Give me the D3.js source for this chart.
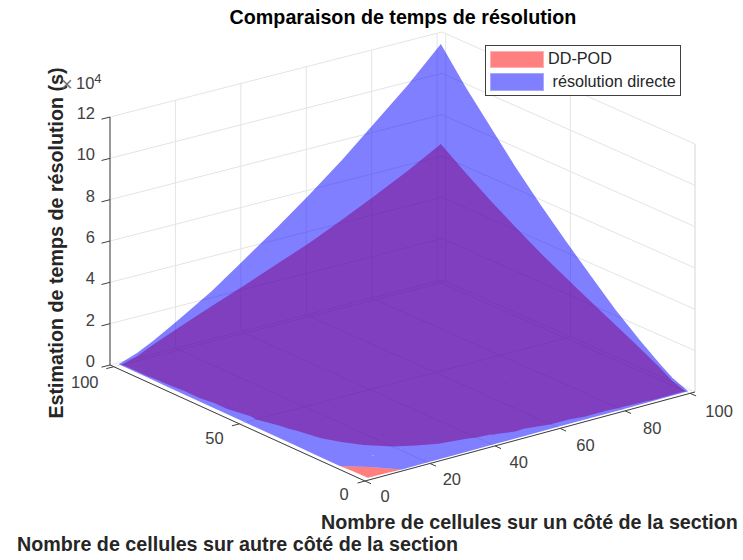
<!DOCTYPE html>
<html><head><meta charset="utf-8">
<script src="https://cdn.jsdelivr.net/npm/d3@7"></script>
<style>html,body{margin:0;padding:0;background:#fff}svg{display:block}text{font-family:"Liberation Sans",Arial,sans-serif}</style>
</head><body><svg id="c" width="743" height="560"></svg>
<script>
const xCells = [1.5,7,12,20,30,40,50,60,70,80,90,100];
const yCells = [0.8,7,12,20,30,40,50,60,70,80,90,100];
const xTicks = [0,20,40,60,80,100];
const yTicks = [0,50,100];
const zTicks = [0,2,4,6,8,10,12];
const titleText = "Comparaison de temps de résolution";
const xLabel = "Nombre de cellules sur un côté de la section";
const yLabel = "Nombre de cellules sur autre côté de la section";
const zLabel = "Estimation de temps de résolution (s)";
const seriesNames = ["DD-POD"," résolution directe"];
const ddPod = [
[.05,.03,0,-.01,-.02,-.03,-.04,-.05,-.05,-.05,-.04,-.04],
[.03,0,-.03,-.05,-.035,-.01,.02,.06,.1,.13,.17,.21],
[0,-.03,-.05,-.03,.03,.09,.15,.22,.31,.4,.49,.58],
[-.01,-.05,-.03,.05,.15,.28,.43,.58,.72,.84,.97,1.1],
[-.02,-.035,.03,.15,.37,.58,.78,.97,1.16,1.35,1.53,1.72],
[-.03,-.01,.09,.28,.58,.84,1.1,1.35,1.6,1.84,2.08,2.32],
[-.04,.02,.15,.43,.78,1.1,1.41,1.72,2.02,2.32,2.63,2.95],
[-.05,.06,.22,.58,.97,1.35,1.72,2.08,2.45,2.82,3.2,3.58],
[-.05,.1,.31,.72,1.16,1.6,2.02,2.45,2.88,3.33,3.8,4.3],
[-.05,.13,.4,.84,1.35,1.84,2.32,2.82,3.33,3.87,4.45,5.05],
[-.04,.17,.49,.97,1.53,2.08,2.63,3.2,3.8,4.45,5.13,5.85],
[-.04,.21,.58,1.1,1.72,2.32,2.95,3.58,4.3,5.05,5.85,6.72]];
const direct = [
[-.05,-.03,0,.01,.015,.02,.025,.03,.035,.04,.05,.055],
[-.03,0,.02,.035,.06,.09,.13,.17,.22,.27,.32,.37],
[0,.02,.035,.07,.13,.21,.3,.38,.47,.56,.66,.76],
[.01,.035,.07,.16,.3,.44,.6,.76,.92,1.09,1.28,1.48],
[.015,.06,.13,.3,.52,.76,1.0,1.28,1.58,1.88,2.15,2.45],
[.02,.09,.21,.44,.76,1.09,1.48,1.88,2.27,2.7,3.15,3.58],
[.025,.13,.3,.6,1.0,1.48,1.95,2.45,3.05,3.58,4.15,4.72],
[.03,.17,.38,.76,1.28,1.88,2.45,3.15,3.8,4.48,5.2,5.92],
[.035,.22,.47,.92,1.58,2.27,3.05,3.8,4.6,5.45,6.3,7.2],
[.04,.27,.56,1.09,1.88,2.7,3.58,4.48,5.45,6.42,7.47,8.6],
[.05,.32,.66,1.28,2.15,3.15,4.15,5.2,6.3,7.47,8.74,10],
[.055,.37,.76,1.48,2.45,3.58,4.72,5.92,7.2,8.6,10,11.56]];

const svg = d3.select("#c");
const F=[365,481],R=[695,392],L=[110,365],B=[442,280];
const xS = d3.scaleLinear().domain([0,101.5]).range([0,1]);
const yS = d3.scaleLinear().domain([0,101.5]).range([0,1]);
const zS = d3.scaleLinear().domain([0,12]).range([0,-248]);
const XMAX=xS.domain()[1], YMAX=yS.domain()[1], ZMAX=12;
function proj(x,y,z){
  const u=xS(x),v=yS(y);
  const a=i=>F[i]+u*(R[i]-F[i])+v*(L[i]-F[i])+u*v*(B[i]+F[i]-L[i]-R[i]);
  return [a(0),a(1)+zS(z)];
}
const line=d3.line();
function seg(g,a,b,color,w){ g.append("path").attr("d",line([proj(...a),proj(...b)])).attr("fill","none").attr("stroke",color).attr("stroke-width",w); }

// grid
const gGrid=svg.append("g");
const gc="#e4e4e4";
xTicks.forEach(t=>{ seg(gGrid,[t,0,0],[t,YMAX,0],gc,1); seg(gGrid,[t,YMAX,0],[t,YMAX,ZMAX],gc,1); });
yTicks.forEach(t=>{ seg(gGrid,[0,t,0],[XMAX,t,0],gc,1); seg(gGrid,[XMAX,t,0],[XMAX,t,ZMAX],gc,1); });
zTicks.forEach(t=>{ seg(gGrid,[0,YMAX,t],[XMAX,YMAX,t],gc,1); seg(gGrid,[XMAX,YMAX,t],[XMAX,0,t],gc,1); });
seg(gGrid,[XMAX,0,0],[XMAX,0,ZMAX],gc,1);

// surfaces: triangles clipped at the floor of the z axis, merged in one path
function clip(tri){
  const out=[];
  tri.forEach((p,i)=>{
    const q=tri[(i+1)%3];
    if(p[2]>=0) out.push(p);
    if((p[2]>=0)!==(q[2]>=0)){
      const t=p[2]/(p[2]-q[2]);
      out.push([p[0]+t*(q[0]-p[0]),p[1]+t*(q[1]-p[1]),0]);
    }
  });
  return out;
}
function surface(M,color){
  const tris=[];
  for(let j=0;j<yCells.length-1;j++)for(let i=0;i<xCells.length-1;i++){
    const c=(a,b)=>[xCells[a],yCells[b],M[b][a]];
    const A=c(i,j),Bb=c(i+1,j),C=c(i+1,j+1),D=c(i,j+1);
    tris.push(clip([A,Bb,D]),clip([Bb,C,D]));
  }
  const poly=tris.filter(t=>t.length>2).map(t=>t.map(p=>proj(...p)));
  const d=poly.map(p=>{ const q=d3.polygonArea(p)<0?p.slice().reverse():p; return line(q)+"Z"; }).join("");
  svg.append("path").attr("d",d).attr("fill",color).attr("fill-rule","nonzero").attr("opacity",.5);
}
surface(ddPod,"#ff0000");
surface(direct,"#0000ff");

// axes
const gAx=svg.append("g");
const ac="#404040";
seg(gAx,[0,0,0],[XMAX,0,0],ac,1);
seg(gAx,[0,0,0],[0,YMAX,0],ac,1);
seg(gAx,[0,YMAX,0],[0,YMAX,ZMAX],ac,1);
function label(x,y,s,anchor){
  return svg.append("text").attr("x",x).attr("y",y).attr("text-anchor",anchor||"middle").attr("fill","#404040").attr("font-size",16.5).attr("dominant-baseline","middle").text(s);
}
xTicks.forEach(t=>{ const p=proj(t,0,0); seg(gAx,[t,0,0],[t,-2.4,0],ac,1); label(p[0]+20+.09*t,p[1]+17+.02*t,t); });
yTicks.forEach(t=>{ const p=proj(0,t,0); seg(gAx,[0,t,0],[-2.3,t,0],ac,1); label(p[0]-21-.08*t,p[1]+15+.02*t,t); });
zTicks.forEach(t=>{ const p=proj(0,YMAX,t); seg(gAx,[0,YMAX,t],[-2.6,YMAX,t],ac,1); label(p[0]-15,p[1]-2.5,t,"end"); });

// titles
const bold=(x,y,s,col,size,anchor)=>svg.append("text").attr("x",x).attr("y",y).attr("fill",col).attr("font-weight","bold").attr("font-size",size).attr("text-anchor",anchor||"start").text(s);
bold(403,24,titleText,"#000",19.7,"middle");
bold(321,529,xLabel,"#262626",19.7);
bold(17,551,yLabel,"#262626",19.7);
bold(0,0,zLabel,"#262626",19.7,"middle").attr("transform","translate(63,243) rotate(-90)");

// exponent
svg.append("text").attr("x",61).attr("y",91).attr("fill","#707070").attr("font-size",20).text("×");
const ex=svg.append("text").attr("x",76).attr("y",89).attr("fill","#404040").attr("font-size",16.5);
ex.append("tspan").text("10");
ex.append("tspan").attr("font-size",13).attr("dy",-6).text("4");

// legend
const lg=svg.append("g");
lg.append("rect").attr("x",485.5).attr("y",45.5).attr("width",195).attr("height",50).attr("fill","#fff").attr("stroke","#404040");
[["#ff8080",52,16,"#ffb0b0"],["#8080ff",74,17,"#a8a8ff"]].forEach((d,i)=>{
  lg.append("rect").attr("x",490.5).attr("y",d[1]-.5).attr("width",53).attr("height",d[2]).attr("fill",d[0]).attr("stroke",d[3]);
  lg.append("text").attr("x",548).attr("y",d[1]+d[2]/2).attr("dominant-baseline","middle").attr("font-size",16.2).attr("fill","#262626").style("white-space","pre").text(seriesNames[i]);
});
</script></body></html>
